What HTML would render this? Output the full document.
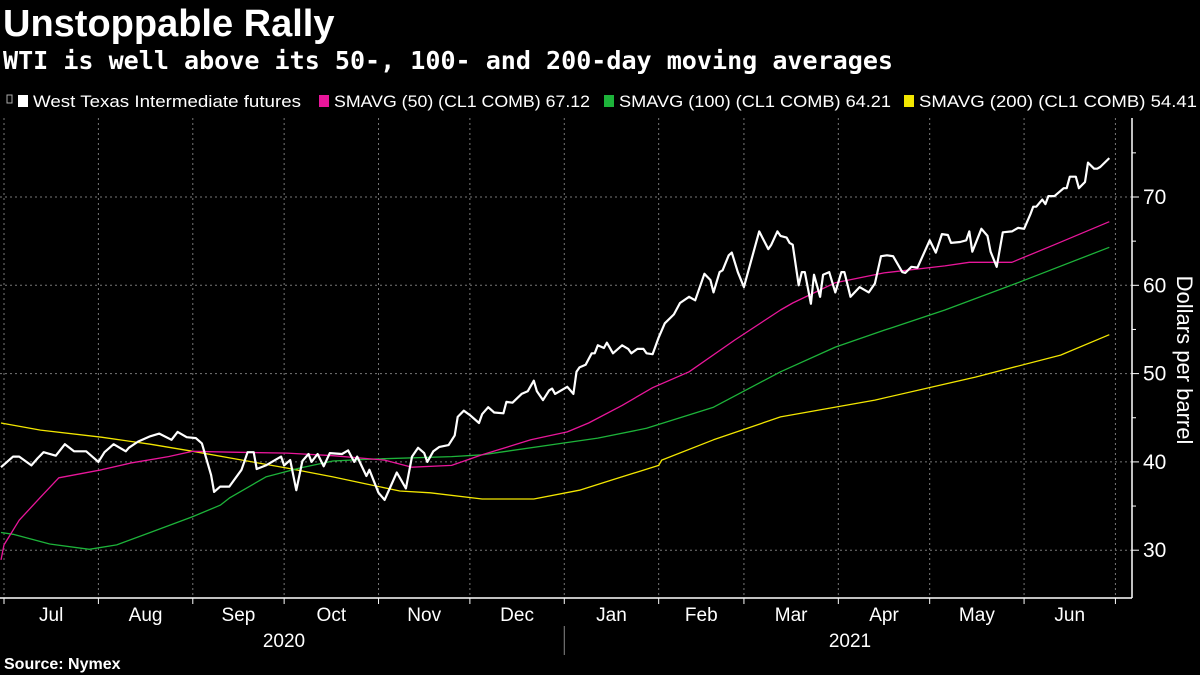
<!DOCTYPE html>
<html><head><meta charset="utf-8"><style>
html,body{margin:0;padding:0;background:#000;width:1200px;height:675px;overflow:hidden}
svg{display:block}
text{font-family:"Liberation Sans","DejaVu Sans",sans-serif;fill:#fff}
</style></head><body>
<svg id="c" width="1200" height="675" viewBox="0 0 1200 675">
<text x="3" y="36" font-size="38" font-weight="bold">Unstoppable Rally</text>
<text x="3" y="69" font-size="25" font-weight="bold" style="font-family:'DejaVu Sans Mono','Liberation Mono',monospace" textLength="890" lengthAdjust="spacingAndGlyphs">WTI is well above its 50-, 100- and 200-day moving averages</text>
<g id="legend"></g>
<g id="grid"></g>
<g id="axes"></g>
<g id="series"></g>
<text x="4" y="669" font-size="16" font-weight="bold">Source: Nymex</text>
</svg>
<script>
// days since 2020-06-29
const wtiDays=[1,5,7,11,13,15,19,22,25,29,33,35,38,42,43,46,50,53,57,59,62,65,67,70,71,73,76,80,82,84,85,88,91,93,94,96,98,100,102,103,105,107,109,113,115,117,118,121,122,125,127,131,134,136,138,140,141,143,145,148,150,151,153,155,158,159,161,163,166,167,169,172,174,176,177,179,181,182,183,187,189,190,191,193,195,196,197,199,200,202,205,207,208,210,212,213,215,217,219,222,224,227,229,232,234,235,237,238,240,241,243,245,250,253,254,256,257,259,260,261,263,264,265,267,268,270,271,273,275,277,278,280,283,286,288,290,292,294,297,298,300,302,306,308,310,312,313,316,318,319,320,323,325,326,328,330,333,335,337,339,340,341,343,344,345,347,350,351,352,354,355,357,358,360,361,362,365];
const wtiValues=[39.4,40.6,40.6,39.6,40.4,41.1,40.7,42.0,41.2,41.2,40.0,41.1,42.0,41.2,41.6,42.3,42.9,43.2,42.5,43.4,42.8,42.7,42.1,38.5,36.6,37.2,37.2,39.1,41.1,41.1,39.2,39.6,40.2,40.6,39.6,40.2,36.8,40.1,40.9,40.0,40.9,39.5,41.0,40.9,41.3,40.0,40.6,38.4,39.1,36.5,35.7,38.8,37.0,40.6,41.6,41.0,40.0,41.2,41.7,41.9,43.0,45.1,45.8,45.3,44.4,45.4,46.2,45.6,45.5,46.8,46.7,47.7,48.0,49.2,48.0,47.0,48.1,48.3,47.7,48.5,47.7,50.2,50.7,51.0,52.3,52.3,53.2,52.9,53.5,52.3,53.2,52.8,52.3,52.8,52.8,52.3,52.2,54.1,55.7,56.7,58.0,58.7,58.3,61.3,60.6,59.2,61.5,61.7,63.4,63.7,61.5,59.8,66.1,64.1,64.6,66.1,65.6,65.4,64.8,64.6,60.0,61.5,61.5,57.9,61.2,58.7,61.2,61.5,59.2,61.5,61.5,58.7,59.8,59.2,60.2,63.3,63.4,63.3,61.5,61.4,62.1,62.0,65.1,63.7,65.8,65.7,64.8,64.9,65.1,66.1,63.8,66.4,65.6,63.8,62.1,66.0,66.1,66.5,66.4,68.0,68.9,68.9,69.7,69.2,70.1,70.1,71.0,71.0,72.3,72.3,71.0,71.7,73.9,73.2,73.2,73.4,74.4];
const ma50Days=[1,2,7,14,20,34,44,56,64,77,95,110,127,136,149,159,175,187,194,205,215,227,242,257,261,275,291,311,319,333,347,365];
const ma50Values=[28.9,30.6,33.4,36.0,38.2,39.1,39.9,40.6,41.2,41.1,41.0,40.7,40.2,39.4,39.6,40.8,42.5,43.4,44.4,46.4,48.4,50.2,53.8,57.2,58.0,60.3,61.4,62.2,62.6,62.6,64.6,67.2];
const ma100Days=[1,5,17,30,39,50,64,73,76,88,99,110,121,149,159,187,197,213,235,257,275,291,311,335,365];
const ma100Values=[32.0,31.8,30.7,30.1,30.6,32.0,33.8,35.1,35.9,38.3,39.3,40.1,40.3,40.6,40.8,42.2,42.7,43.8,46.2,50.2,53.0,54.9,57.2,60.3,64.3];
const ma200Days=[1,14,34,50,64,77,95,110,121,132,142,159,176,191,202,217,218,235,257,288,321,349,365];
const ma200Values=[44.4,43.6,42.8,42.0,41.2,40.4,39.3,38.3,37.5,36.7,36.5,35.8,35.8,36.8,38.0,39.6,40.2,42.5,45.1,47.0,49.6,52.1,54.4];
const yTicks=[30,40,50,60,70];
const monthLabels=["Jul","Aug","Sep","Oct","Nov","Dec","Jan","Feb","Mar","Apr","May","Jun"];
const monthStartDays=[2,33,64,94,125,155,186,217,245,276,306,337,367];
const yearLabels=["2020","2021"];
const legendLabels=["West Texas Intermediate futures","SMAVG (50) (CL1 COMB) 67.12","SMAVG (100) (CL1 COMB) 64.21","SMAVG (200) (CL1 COMB) 54.41"];

const NS="http://www.w3.org/2000/svg";
const X=d=>4+(d-2)*3.045;
const Y=v=>197+(70-v)*8.83;
function mk(tag,attrs,parent){const e=document.createElementNS(NS,tag);for(const k in attrs)e.setAttribute(k,attrs[k]);parent.appendChild(e);return e;}
const grid=document.getElementById('grid'),axes=document.getElementById('axes'),ser=document.getElementById('series'),leg=document.getElementById('legend');
const AX=1132,BY=598,TOP=118;
yTicks.forEach(v=>{
 const l=mk('line',{x1:0,x2:AX,y1:Y(v),y2:Y(v),stroke:'#777','stroke-width':1,'stroke-dasharray':'2,3'},grid);
 
 
 const t=mk('text',{x:1143,y:Y(v)+7,'font-size':21},axes);t.textContent=v;
 
 
 mk('line',{x1:AX,x2:AX+7,y1:Y(v),y2:Y(v),stroke:'#fff'},axes);
 mk('line',{x1:AX,x2:AX+4,y1:Y(v+5),y2:Y(v+5),stroke:'#fff'},axes);
});
monthStartDays.forEach((d,i)=>{
 const x=X(d);
 const l=mk('line',{x1:x,x2:x,y1:TOP,y2:BY,stroke:'#777','stroke-width':1,'stroke-dasharray':'2,3'},grid);
 
 
 mk('line',{x1:x,x2:x,y1:BY,y2:BY+6,stroke:'#fff'},axes);
 if(i<monthLabels.length){
  const t=mk('text',{x:(x+X(monthStartDays[i+1]))/2,y:621,'font-size':19,'text-anchor':'middle'},axes);t.textContent=monthLabels[i];
  
  
 }
});
mk('line',{x1:0,x2:AX,y1:BY,y2:BY,stroke:'#fff','stroke-width':1.5},axes);
mk('line',{x1:AX,x2:AX,y1:TOP,y2:BY,stroke:'#fff','stroke-width':1.5},axes);
const sep=X(monthStartDays[6]);
mk('line',{x1:sep,x2:sep,y1:626,y2:655,stroke:'#888'},axes);
[0,1].forEach(i=>{
 const t=mk('text',{x:i==0?284:850,y:647,'font-size':19,'text-anchor':'middle'},axes);t.textContent=yearLabels[i];
 
 
});
const yt=mk('text',{x:0,y:0,'font-size':22,'text-anchor':'middle',transform:'translate(1177,360) rotate(90)'},axes);yt.textContent='Dollars per barrel';


function line(days,vals,color,w,name){
 const p=mk('polyline',{points:days.map((d,i)=>X(d).toFixed(1)+','+Y(vals[i]).toFixed(1)).join(' '),fill:'none',stroke:color,'stroke-width':w,'stroke-linejoin':'round'},ser);
 
 
}
line(ma200Days,ma200Values,'#f2e600',1.3,'sma200-line');
line(ma100Days,ma100Values,'#1db33a',1.3,'sma100-line');
line(ma50Days,ma50Values,'#e8169a',1.3,'sma50-line');
line(wtiDays,wtiValues,'#ffffff',2.2,'wti-line');
const legColors=['#ffffff','#e8169a','#1db33a','#f2e600'];
const legX=[18,319,604,904];
const legW=[268,256,272,278];
mk('rect',{x:7,y:95,width:5,height:8,fill:'none',stroke:'#aaa','stroke-width':1},leg);
legendLabels.forEach((s,i)=>{
 const r=mk('rect',{x:legX[i],y:95,width:10,height:12,fill:legColors[i]},leg);
 
 
 const t=mk('text',{x:legX[i]+15,y:107,'font-size':17,textLength:legW[i],lengthAdjust:'spacingAndGlyphs'},leg);t.textContent=s;
 
 
});
</script>
</body></html>
